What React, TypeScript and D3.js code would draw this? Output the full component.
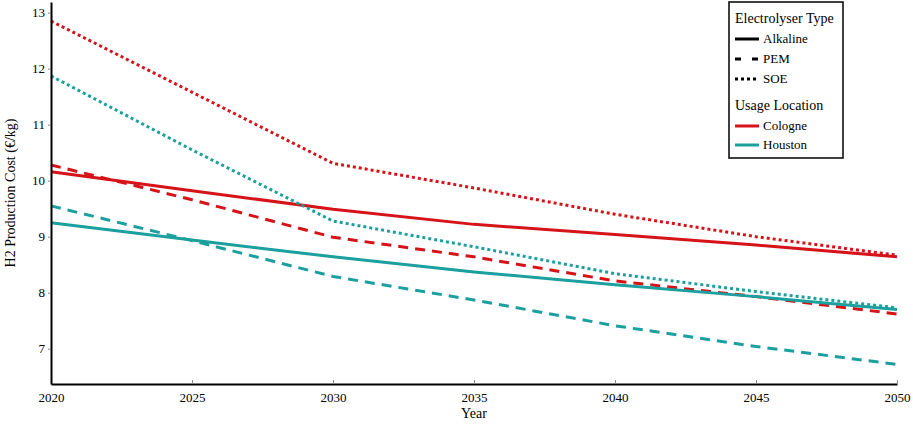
import React, { useRef, useEffect } from 'react';
import * as d3 from 'd3';

const years = [2020, 2025, 2030, 2035, 2040, 2045, 2050];
const cologneAlkaline = [10.16, 9.82, 9.49, 9.22, 9.04, 8.85, 8.64];
const colognePEM = [10.28, 9.66, 8.99, 8.64, 8.21, 7.93, 7.62];
const cologneSOE = [12.85, 11.58, 10.31, 9.87, 9.4, 9.0, 8.67];
const houstonAlkaline = [9.25, 8.94, 8.64, 8.37, 8.14, 7.93, 7.7];
const houstonPEM = [9.55, 8.93, 8.29, 7.87, 7.41, 7.04, 6.72];
const houstonSOE = [11.87, 10.55, 9.28, 8.82, 8.34, 8.02, 7.73];
const xTicks = [2020, 2025, 2030, 2035, 2040, 2045, 2050];
const yTicks = [7, 8, 9, 10, 11, 12, 13];
const typeNames = ['Alkaline', 'PEM', 'SOE'];
const locationNames = ['Cologne', 'Houston'];

export default function App(): JSX.Element {
  const svgRef = useRef<SVGSVGElement>(null);
  useEffect(() => {
    const svgEle = svgRef.current;
    if (svgEle == null) {
      return;
    }
    const svg = d3.select(svgEle);
    svg.selectAll('*').remove();

    const width = 913;
    const height = 428;
    const margin = { left: 51, right: 16, top: 2, bottom: 44 };
    const font = '"Liberation Serif", "DejaVu Serif", serif';

    const colors: Record<string, string> = { Cologne: '#d61318', Houston: '#1c9f9f' };
    const dashes: Record<string, string> = { Alkaline: 'none', PEM: '10,7', SOE: '3,3' };

    const series = [
      { loc: 'Cologne', type: 'Alkaline', values: cologneAlkaline },
      { loc: 'Cologne', type: 'PEM', values: colognePEM },
      { loc: 'Cologne', type: 'SOE', values: cologneSOE },
      { loc: 'Houston', type: 'Alkaline', values: houstonAlkaline },
      { loc: 'Houston', type: 'PEM', values: houstonPEM },
      { loc: 'Houston', type: 'SOE', values: houstonSOE }
    ];

    const x = d3
      .scaleLinear()
      .domain([2020, 2050])
      .range([margin.left, width - margin.right]);
    const y = d3
      .scaleLinear()
      .domain([6.37, 13.19])
      .range([height - margin.bottom, margin.top]);

    // lines
    const line = d3
      .line<number>()
      .x((_, i) => x(years[i]))
      .y((d) => y(d));
    svg
      .append('g')
      .selectAll('path')
      .data(series)
      .join('path')
      .attr('d', (d) => line(d.values))
      .attr('fill', 'none')
      .attr('stroke', (d) => colors[d.loc])
      .attr('stroke-width', 3)
      .attr('stroke-dasharray', (d) => dashes[d.type]);

    // x axis, ticks pointing inward
    const xAxis = svg
      .append('g')
      .attr('transform', `translate(0,${height - margin.bottom})`)
      .call(d3.axisBottom(x).tickValues(xTicks).tickFormat(d3.format('d')).tickSizeInner(-4).tickSizeOuter(0).tickPadding(9));
    xAxis.select('.domain').attr('stroke', '#000').attr('stroke-width', 2);
    xAxis.selectAll('.tick line').attr('stroke', '#888');
    xAxis
      .selectAll('.tick text')
      .attr('fill', '#000')
      .style('font-family', font)
      .style('font-size', '13px');

    // y axis, ticks outward
    const yAxis = svg
      .append('g')
      .attr('transform', `translate(${margin.left},0)`)
      .call(d3.axisLeft(y).tickValues(yTicks).tickFormat(d3.format('d')).tickSizeInner(3).tickSizeOuter(0).tickPadding(3));
    yAxis.select('.domain').attr('stroke', '#000').attr('stroke-width', 2);
    yAxis.selectAll('.tick line').attr('stroke', '#888');
    yAxis
      .selectAll('.tick text')
      .attr('fill', '#000')
      .style('font-family', font)
      .style('font-size', '13px');

    svg
      .append('text')
      .attr('x', (margin.left + width - margin.right) / 2)
      .attr('y', 418)
      .attr('text-anchor', 'middle')
      .style('font-family', font)
      .style('font-size', '14px')
      .text('Year');
    svg
      .append('text')
      .attr('transform', `translate(15,${(margin.top + height - margin.bottom) / 2}) rotate(-90)`)
      .attr('text-anchor', 'middle')
      .style('font-family', font)
      .style('font-size', '14px')
      .text('H2 Production Cost (€/kg)');

    // legend
    const lg = svg.append('g').attr('transform', 'translate(729,2)');
    lg.append('rect')
      .attr('width', 114)
      .attr('height', 156)
      .attr('fill', '#fff')
      .attr('stroke', '#000')
      .attr('stroke-width', 1.5);
    lg.append('text')
      .attr('x', 6)
      .attr('y', 21)
      .style('font-family', font)
      .style('font-size', '14px')
      .text('Electrolyser Type');
    typeNames.forEach((t, i) => {
      const yy = 37 + i * 20;
      lg.append('line')
        .attr('x1', 6)
        .attr('x2', 30)
        .attr('y1', yy)
        .attr('y2', yy)
        .attr('stroke', '#000')
        .attr('stroke-width', 3)
        .attr('stroke-dasharray', t === 'PEM' ? '6,11' : dashes[t]);
      lg.append('text')
        .attr('x', 34)
        .attr('y', yy + 4)
        .style('font-family', font)
        .style('font-size', '13px')
        .text(t);
    });
    lg.append('text')
      .attr('x', 6)
      .attr('y', 108)
      .style('font-family', font)
      .style('font-size', '14px')
      .text('Usage Location');
    locationNames.forEach((l, i) => {
      const yy = 124 + i * 19;
      lg.append('line')
        .attr('x1', 6)
        .attr('x2', 30)
        .attr('y1', yy)
        .attr('y2', yy)
        .attr('stroke', colors[l])
        .attr('stroke-width', 3);
      lg.append('text')
        .attr('x', 34)
        .attr('y', yy + 4)
        .style('font-family', font)
        .style('font-size', '13px')
        .text(l);
    });
  }, []);
  return (
    <svg
      ref={svgRef}
      width={913}
      height={428}
      style={{ position: 'absolute', left: 0, top: 0, background: '#fff' }}
    />
  );
}
